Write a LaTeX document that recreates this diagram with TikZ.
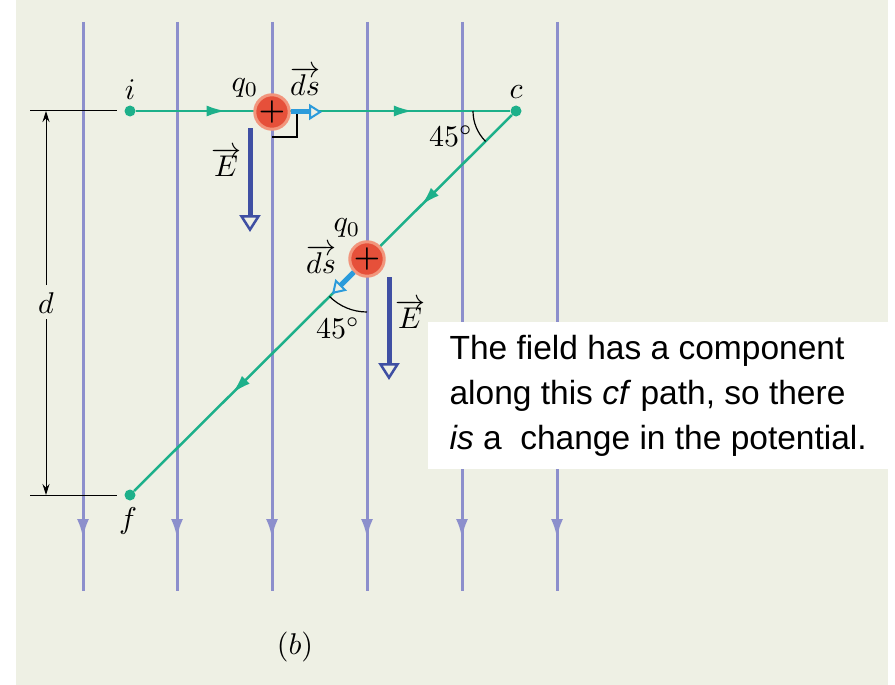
\documentclass[tikz,border=0pt]{standalone}
\usepackage{fontspec}
\newfontfamily\notefont{Liberation Sans}
\usetikzlibrary{arrows.meta,decorations.markings,calc}
\definecolor{bgc}{HTML}{EEF0E4}
\definecolor{fieldc}{HTML}{8C8FCC}
\definecolor{pathc}{HTML}{1DB08A}
\definecolor{chargec}{HTML}{E6503A}
\definecolor{ringc}{HTML}{F2957C}
\definecolor{efc}{HTML}{3F4FA3}
\definecolor{dsc}{HTML}{2B9BDB}
\tikzset{
  fieldline/.style={fieldc,line width=3pt},
  cfpath/.style={pathc,line width=2.5pt,postaction=decorate,
    decoration={markings,
      mark=at position 0.24 with {\arrow{Latex[length=19pt,width=11pt]}},
      mark=at position 0.74 with {\arrow{Latex[length=19pt,width=11pt]}}}},
  dot/.style={circle,fill=pathc,minimum size=11pt,inner sep=0pt},
  charge/.style={circle,fill=chargec,draw=ringc,line width=3pt,minimum size=31pt,inner sep=0pt,font=\fontsize{30}{30}\selectfont\bfseries},
  efield/.style={efc,line width=5pt,-{Triangle[length=17pt,width=21pt,line width=2.5pt,fill=bgc]}},
  dsvec/.style={dsc,line width=5pt,-{Triangle[length=13pt,width=16pt,line width=2pt,fill=bgc]}},
  lbl/.style={scale=3,inner sep=0.5pt},
  notebox/.style={fill=white,anchor=north west,minimum width=460pt,minimum height=147pt,align=left,inner sep=0pt,font=\notefont\fontsize{33.5}{45}\selectfont}
}
\begin{document}
\begin{tikzpicture}[x=1pt,y=-1pt]
\useasboundingbox (0,0) rectangle (895,685);
\fill[bgc] (16,0) rectangle (888,685);

\foreach \x in {83,177,272,367,462,557}{
  \draw[fieldline,-{Latex[length=19pt,width=12pt]}] (\x,22) -- (\x,538);
  \draw[fieldline] (\x,530) -- (\x,591);
}

\node[notebox] (note) at (428,322) {The field has a component\\along this \textit{cf} path, so there\\\textit{is} a\ \ change in the potential.};

\node[dot] (i) at (130,111) {};
\node[dot] (c) at (516,111) {};
\node[dot] (f) at (130,495) {};
\node[lbl] (il) at (130,90) {$i$};
\node[lbl] (cl) at (516,92) {$c$};
\node[lbl] (fl) at (128,521) {$f$};
\draw[cfpath] (i) -- (c);
\draw[cfpath] (c) -- (f);

\draw[line width=1pt] (30,111) -- (117,111);
\draw[line width=1pt] (30,495) -- (117,495);
\node[lbl] (d) at (46,303) {$d$};
\coordinate (dtop) at (46,111);
\coordinate (dbot) at (46,495);
\draw[line width=1pt,-{Stealth[length=11pt,width=7pt]}] (46,285) -- (dtop);
\draw[line width=1pt,-{Stealth[length=11pt,width=7pt]}] (46,319) -- (dbot);

\draw[line width=1.2pt] (272,137) -- (297,137) -- (297,112);
\draw[line width=1.2pt] ($(c)+(180:43)$) arc[start angle=180,end angle=135,radius=43];
\node[lbl] (anga) at (451,136) {$45^\circ$};

\coordinate (ea1) at (250,128);
\coordinate (ea2) at (250,232);
\draw[efield] (ea1) -- (ea2);
\node[lbl] (ea) at (226,162) {$\overrightarrow{E}$};

\coordinate (eb1) at (389,277);
\coordinate (eb2) at (389,380);
\draw[efield] (eb1) -- (eb2);
\node[lbl] (eb) at (410,314) {$\overrightarrow{E}$};

\node[charge] (qa) at (272,112) {+};
\node[charge] (qb) at (367,259) {+};
\draw[line width=1.2pt] ($(qb)+(135:53)$) arc[start angle=135,end angle=90,radius=53];
\node[lbl] (angb) at (338,328) {$45^\circ$};

\coordinate (dsa) at (322,112);
\coordinate (dsb) at (332,294);
\draw[dsvec] (qa.east) -- (dsa);
\draw[dsvec] (qb.south west) -- (dsb);

\node[lbl] (qla) at (245,88) {$q_0$};
\node[lbl] (dla) at (305,81) {$\overrightarrow{ds}$};
\node[lbl] (qlb) at (347,228) {$q_0$};
\node[lbl] (dlb) at (321,259) {$\overrightarrow{ds}$};

\node[lbl] (cap) at (295,647) {$(b)$};
\end{tikzpicture}
\end{document}
